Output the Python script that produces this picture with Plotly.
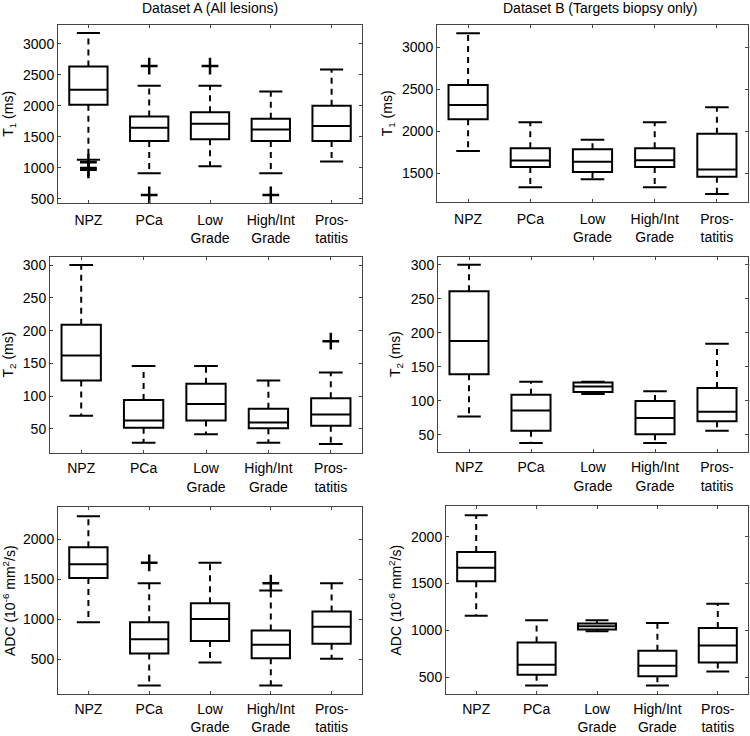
import plotly.graph_objects as go

categories = ["NPZ", "PCa", "Low<br>Grade", "High/Int<br>Grade", "Pros-<br>tatitis"]

# Dataset A — T1 (ms)
t1a_lower = [1130, 914, 1027, 914, 1102]
t1a_q1 = [2016, 1433, 1460, 1433, 1433]
t1a_median = [2259, 1647, 1711, 1620, 1674]
t1a_q3 = [2634, 1829, 1898, 1791, 2000]
t1a_upper = [3171, 2323, 2323, 2232, 2586]
t1a_outliers = [[1090, 1000, 970], [2640, 564], [2640], [564], []]

# Dataset B — T1 (ms)
t1b_lower = [1768, 1335, 1429, 1335, 1256]
t1b_q1 = [2146, 1575, 1516, 1575, 1461]
t1b_median = [2315, 1654, 1638, 1657, 1547]
t1b_q3 = [2551, 1799, 1787, 1799, 1972]
t1b_upper = [3169, 2110, 1902, 2110, 2287]
t1b_outliers = [[], [], [], [], []]

# Dataset A — T2 (ms)
t2a_lower = [70, 29, 42, 29, 27]
t2a_q1 = [124, 52, 63, 51, 55]
t2a_median = [162, 63, 88, 60, 72]
t2a_q3 = [209, 94, 119, 81, 97]
t2a_upper = [300, 146, 146, 124, 136]
t2a_outliers = [[], [], [], [], [184]]

# Dataset B — T2 (ms)
t2b_lower = [77, 38, 110, 38, 56]
t2b_q1 = [139, 56, 113, 51, 70]
t2b_median = [188, 86, 121, 75, 84]
t2b_q3 = [261, 109, 127, 100, 119]
t2b_upper = [300, 128, 128, 114, 184]
t2b_outliers = [[], [], [], [], []]

# Dataset A — ADC (10^-6 mm2/s)
adca_lower = [963, 169, 459, 169, 504]
adca_q1 = [1516, 570, 727, 512, 692]
adca_median = [1689, 748, 1004, 680, 907]
adca_q3 = [1901, 963, 1201, 858, 1098]
adca_upper = [2290, 1450, 1706, 1359, 1450]
adca_outliers = [[], [1706], [], [1450], []]

# Dataset B — ADC (10^-6 mm2/s)
adcb_lower = [1156, 408, 989, 408, 560]
adcb_q1 = [1525, 525, 1007, 507, 656]
adcb_median = [1667, 631, 1043, 621, 837]
adcb_q3 = [1837, 869, 1071, 780, 1025]
adcb_upper = [2230, 1106, 1106, 1078, 1284]
adcb_outliers = [[], [], [], [], []]

W, H = 750, 736

panels = [
    dict(lo=t1a_lower, q1=t1a_q1, me=t1a_median, q3=t1a_q3, up=t1a_upper, out=t1a_outliers,
         px=(58, 362), py=(25, 204), yr=[436, 3304], tv=[500, 1000, 1500, 2000, 2500, 3000],
         yt="T<sub>1</sub> (ms)", so=4),
    dict(lo=t1b_lower, q1=t1b_q1, me=t1b_median, q3=t1b_q3, up=t1b_upper, out=t1b_outliers,
         px=(437, 748), py=(25, 203), yr=[1161, 3268], tv=[1500, 2000, 2500, 3000],
         yt="T<sub>1</sub> (ms)", so=4),
    dict(lo=t2a_lower, q1=t2a_q1, me=t2a_median, q3=t2a_q3, up=t2a_upper, out=t2a_outliers,
         px=(50, 362), py=(258, 455), yr=[14, 313], tv=[50, 100, 150, 200, 250, 300],
         yt="T<sub>2</sub> (ms)", so=3),
    dict(lo=t2b_lower, q1=t2b_q1, me=t2b_median, q3=t2b_q3, up=t2b_upper, out=t2b_outliers,
         px=(438, 748), py=(258, 454), yr=[25.6, 312], tv=[50, 100, 150, 200, 250, 300],
         yt="T<sub>2</sub> (ms)", so=3),
    dict(lo=adca_lower, q1=adca_q1, me=adca_median, q3=adca_q3, up=adca_upper, out=adca_outliers,
         px=(58, 362), py=(510, 698), yr=[61, 2402], tv=[500, 1000, 1500, 2000],
         yt="ADC (10<sup>-6</sup> mm<sup>2</sup>/s)", so=2),
    dict(lo=adcb_lower, q1=adcb_q1, me=adcb_median, q3=adcb_q3, up=adcb_upper, out=adcb_outliers,
         px=(446, 748), py=(509, 698), yr=[316, 2326], tv=[500, 1000, 1500, 2000],
         yt="ADC (10<sup>-6</sup> mm<sup>2</sup>/s)", so=2),
]

FONT = "Liberation Sans, Arial, sans-serif"
FS = 14
fig = go.Figure()
axis_col = "#444444"
box_w = 0.63
cap_half = 0.19

layout = dict(
    width=W, height=H, margin=dict(l=0, r=0, t=0, b=0),
    paper_bgcolor="white", plot_bgcolor="white", showlegend=False,
    font=dict(family=FONT, size=FS, color="black"),
)

for k, p in enumerate(panels):
    n = k + 1
    xa = "x" if n == 1 else f"x{n}"
    ya = "y" if n == 1 else f"y{n}"
    idx = list(range(len(categories)))
    for i in idx:
        fig.add_trace(go.Box(
            x=[i], q1=[p["q1"][i]], median=[p["me"][i]], q3=[p["q3"][i]],
            lowerfence=[p["q1"][i]], upperfence=[p["q3"][i]],
            width=box_w, whiskerwidth=0, boxpoints=False,
            fillcolor="rgba(0,0,0,0)", line=dict(color="black", width=2),
            xaxis=xa, yaxis=ya, hoverinfo="skip",
        ))
    # dashed whiskers
    wx, wy = [], []
    for i in idx:
        wx += [i, i, None, i, i, None]
        wy += [p["q3"][i], p["up"][i], None, p["q1"][i], p["lo"][i], None]
    fig.add_trace(go.Scatter(x=wx, y=wy, mode="lines",
                             line=dict(color="black", width=2, dash="6px,5px"),
                             xaxis=xa, yaxis=ya, hoverinfo="skip"))
    # caps
    cx, cy = [], []
    for i in idx:
        cx += [i - cap_half, i + cap_half, None, i - cap_half, i + cap_half, None]
        cy += [p["up"][i], p["up"][i], None, p["lo"][i], p["lo"][i], None]
    fig.add_trace(go.Scatter(x=cx, y=cy, mode="lines",
                             line=dict(color="black", width=2),
                             xaxis=xa, yaxis=ya, hoverinfo="skip"))
    # outliers
    ox, oy = [], []
    for i in idx:
        for v in p["out"][i]:
            ox.append(i)
            oy.append(v)
    if ox:
        fig.add_trace(go.Scatter(x=ox, y=oy, mode="markers",
                                 marker=dict(symbol="cross-thin", size=12,
                                             line=dict(color="black", width=2.5)),
                                 xaxis=xa, yaxis=ya, hoverinfo="skip"))

    xkey = "xaxis" if n == 1 else f"xaxis{n}"
    ykey = "yaxis" if n == 1 else f"yaxis{n}"
    layout[xkey] = dict(
        domain=[p["px"][0] / W, p["px"][1] / W], anchor=ya,
        range=[-0.5, 4.5], tickvals=idx, ticktext=categories,
        showline=True, linecolor=axis_col, linewidth=1, mirror="ticks",
        ticks="inside", ticklen=3, tickcolor=axis_col,
        showgrid=False, zeroline=False, ticklabelstandoff=p["so"],
        tickfont=dict(size=FS, color="black"),
    )
    layout[ykey] = dict(
        domain=[1 - p["py"][1] / H, 1 - p["py"][0] / H], anchor=xa,
        range=p["yr"], tickvals=p["tv"],
        showline=True, linecolor=axis_col, linewidth=1, mirror="ticks",
        ticks="inside", ticklen=3, tickcolor=axis_col,
        showgrid=False, zeroline=False,
        tickfont=dict(size=FS, color="black"),
        title=dict(text=p["yt"], font=dict(size=FS, color="black"), standoff=6),
    )

layout["annotations"] = [
    dict(text="Dataset A (All lesions)", x=210 / W, y=1 - 8 / H, xref="paper", yref="paper",
         showarrow=False, font=dict(size=FS, color="black"), xanchor="center", yanchor="middle"),
    dict(text="Dataset B (Targets biopsy only)", x=600 / W, y=1 - 8 / H, xref="paper", yref="paper",
         showarrow=False, font=dict(size=FS, color="black"), xanchor="center", yanchor="middle"),
]

fig.update_layout(**layout)
fig.write_html("out.html", config={"displayModeBar": False},
               post_script="document.body.style.margin='0px';document.body.style.overflow='hidden';")
